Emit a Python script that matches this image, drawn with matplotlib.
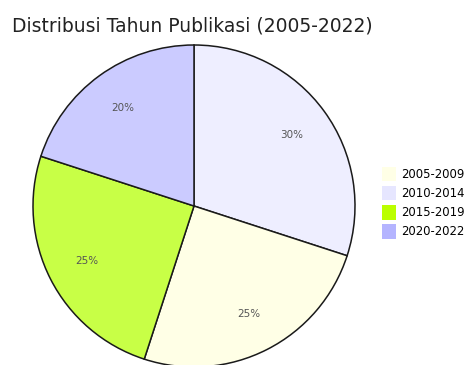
import matplotlib
matplotlib.use("Agg")
import matplotlib.pyplot as plt
from matplotlib.patches import Patch

# Publication-year distribution
periods = ["2005-2009", "2010-2014", "2015-2019", "2020-2022"]
shares = [25, 30, 25, 20]
colors = ["#FFFFE6", "#EEEEFF", "#C8FF46", "#CBCBFF"]
legend_colors = ["#FFFFE6", "#E6E6FF", "#BBFF00", "#B4B4FF"]

# wedge order going clockwise from twelve o'clock
draw_order = [1, 0, 2, 3]

W, H = 467, 365
fig = plt.figure(figsize=(W / 100, H / 100), dpi=100)
fig.patch.set_facecolor("white")

cx, cy, r = 194, H - 206, 161
ax = fig.add_axes([(cx - r) / W, (cy - r) / H, 2 * r / W, 2 * r / H])
ax.set_aspect("equal")

vals = [shares[i] for i in draw_order]
cols = [colors[i] for i in draw_order]
wedges, texts, autotexts = ax.pie(
    vals, colors=cols, startangle=90, counterclock=False,
    autopct="%d%%", pctdistance=0.75,
    wedgeprops=dict(edgecolor="#1a1a1a", linewidth=1.1),
    textprops=dict(fontsize=7.5, color="#555555", family="DejaVu Sans"),
)
ax.set_xlim(-1, 1)
ax.set_ylim(-1, 1)
ax.axis("off")

fig.text(12 / W, 1 - 26 / H, "Distribusi Tahun Publikasi (2005-2022)",
         fontsize=13.5, color="#222222", family="DejaVu Sans",
         ha="left", va="center")

handles = [Patch(facecolor=c, edgecolor="none") for c in legend_colors]
fig.legend(handles, periods, loc="upper left",
           bbox_to_anchor=(382 / W, 1 - 167 / H), bbox_transform=fig.transFigure,
           frameon=False, handlelength=1.2, handleheight=1.5,
           handletextpad=0.4, labelspacing=0.42, borderpad=0, borderaxespad=0,
           prop=dict(family="DejaVu Sans", size=8.4))

fig.savefig("out.png", dpi=100, facecolor="white")
